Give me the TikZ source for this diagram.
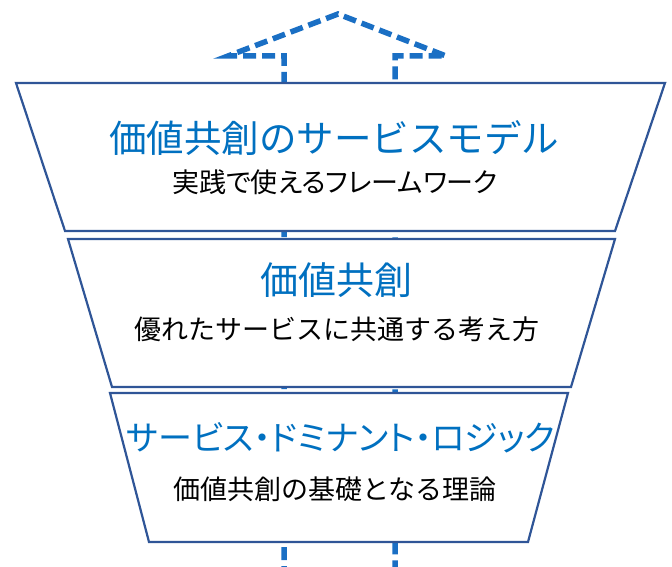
\documentclass[tikz,border=0pt]{standalone}
\usepackage{fontspec}
\newfontfamily\jp{Noto Sans CJK JP}
\newfontfamily\jpp[RawFeature=+palt]{Noto Sans CJK JP}
\definecolor{trapblue}{HTML}{2F5597}
\definecolor{titleblue}{HTML}{0070C0}
\definecolor{arrowblue}{HTML}{1A6FC4}
\begin{document}
\begin{tikzpicture}[x=1pt,y=-1pt,
  trap/.style={draw=trapblue, line width=2.2pt, fill=white, line join=miter},
  arrowline/.style={draw=arrowblue, line width=5.5pt, dash pattern=on 13pt off 6pt, dash phase=12pt},
  title/.style={text=titleblue, font=\jp\fontsize{37.5}{40}\selectfont, inner sep=0pt},
  titlep/.style={text=titleblue, font=\jpp\fontsize{34}{38}\selectfont, inner sep=0pt},
  sub/.style={text=black, font=\jp\fontsize{27}{30}\selectfont, inner sep=0pt},
  subp/.style={text=black, font=\jpp\fontsize{27}{30}\selectfont, inner sep=0pt}]
\useasboundingbox (0,0) rectangle (672,567);
% dashed upward arrow behind the layers
\coordinate (sL0) at (284,567);
\coordinate (sL1) at (284,56);
\coordinate (hL) at (228,56);
\coordinate (apex) at (338,14);
\coordinate (hR) at (446,56);
\coordinate (sR1) at (395,56);
\coordinate (sR0) at (395,567);
\draw[arrowline] (sL0) -- (sL1) -- (hL) -- (apex) -- (hR) -- (sR1) -- (sR0);
% layers
\draw[trap] (16,83) -- (665,83) -- (615,231) -- (65,231) -- cycle;
\draw[trap] (68,239) -- (615,239) -- (571,387) -- (112,387) -- cycle;
\draw[trap] (110,393) -- (568,393) -- (528,542) -- (149,542) -- cycle;
% texts
\node[title] (t1) at (334,138) {価値共創のサービスモデル};
\node[subp] (s1) at (335,182) {実践で使えるフレームワーク};
\node[title, font=\jp\fontsize{38}{40}\selectfont] (t2) at (336,280) {価値共創};
\node[sub] (s2) at (337,329) {優れたサービスに共通する考え方};
\node[titlep] (t3) at (341,438) {サービス・ドミナント・ロジック};
\node[sub] (s3) at (335,489) {価値共創の基礎となる理論};
\end{tikzpicture}
\end{document}
